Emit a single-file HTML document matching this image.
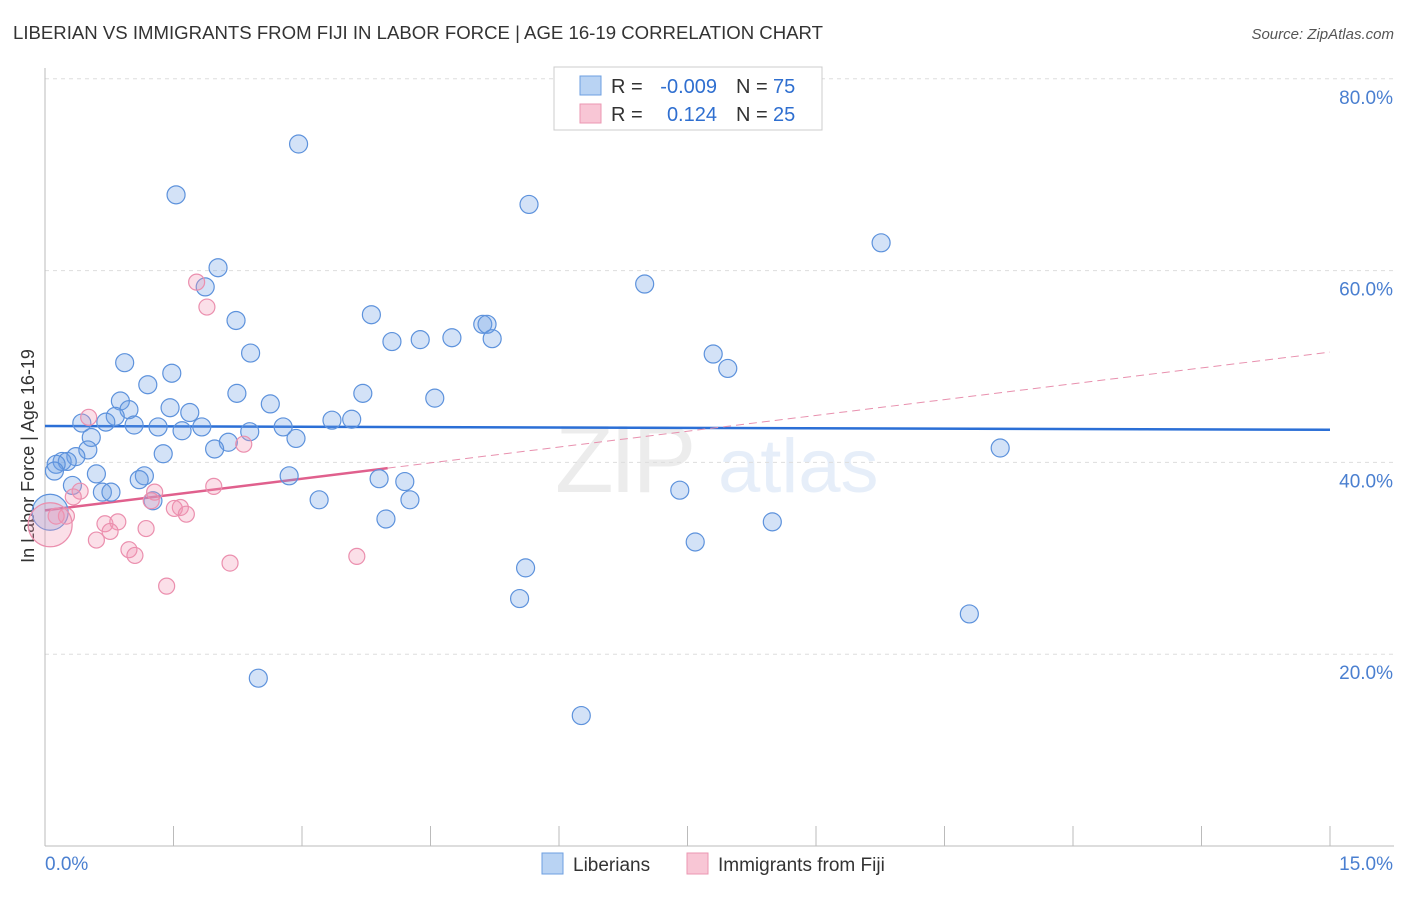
<!DOCTYPE html>
<html><head><meta charset="utf-8"><style>
body{margin:0;background:#fff;font-family:"Liberation Sans",sans-serif}
svg text{font-family:"Liberation Sans",sans-serif}
</style></head><body>
<svg id="chart" width="1406" height="892" xmlns="http://www.w3.org/2000/svg">
<text x="13" y="39" font-size="18.6" fill="#333">LIBERIAN VS IMMIGRANTS FROM FIJI IN LABOR FORCE | AGE 16-19 CORRELATION CHART</text>
<text x="1394" y="39" font-size="15" fill="#555" text-anchor="end" font-style="italic">Source: ZipAtlas.com</text>
<text transform="translate(34,456) rotate(-90)" font-size="18" fill="#333" text-anchor="middle">In Labor Force | Age 16-19</text>
<g opacity="0.18">
<text x="555" y="492" font-size="96" fill="#999" font-family="Liberation Serif" letter-spacing="-4">ZIP</text>
<text x="718" y="492" font-size="76" fill="#7aa7e0">atlas</text>
</g>
<g id="grid"></g><g id="axes"></g><g id="lines"></g><g id="points"></g>
<g>
<rect x="554" y="67" width="268" height="63" fill="#fff" stroke="#ccc"/>
<rect x="580" y="76" width="21" height="19" fill="#b9d3f3" stroke="#6d9fe0"/>
<rect x="580" y="104" width="21" height="19" fill="#f8c6d5" stroke="#eb97b2"/>
<text x="611" y="93" font-size="20" fill="#333">R =</text>
<text x="717" y="93" font-size="20" fill="#2f6fd0" text-anchor="end">-0.009</text>
<text x="736" y="93" font-size="20" fill="#333">N =</text>
<text x="773" y="93" font-size="20" fill="#2f6fd0">75</text>
<text x="611" y="121" font-size="20" fill="#333">R =</text>
<text x="717" y="121" font-size="20" fill="#2f6fd0" text-anchor="end">0.124</text>
<text x="736" y="121" font-size="20" fill="#333">N =</text>
<text x="773" y="121" font-size="20" fill="#2f6fd0">25</text>
</g>
<g>
<rect x="542" y="853" width="21" height="21" fill="#b9d3f3" stroke="#6d9fe0"/>
<text x="573" y="871" font-size="19" fill="#333">Liberians</text>
<rect x="687" y="853" width="21" height="21" fill="#f8c6d5" stroke="#eb97b2"/>
<text x="718" y="871" font-size="19" fill="#333">Immigrants from Fiji</text>
</g>
</svg>
<script>
const yTicks=[20,40,60,80];
const yTickLabels=["20.0%","40.0%","60.0%","80.0%"];
const xTickCount=10;
const blueX=[2.96,1.53,5.65,9.76,2.02,1.87,7.00,2.23,3.81,5.11,5.16,4.75,5.22,4.05,4.38,2.40,0.93,7.80,7.97,1.48,1.20,2.24,3.71,4.55,0.88,2.63,0.98,0.82,1.46,1.69,0.43,0.71,1.04,1.32,1.60,1.83,2.78,3.35,3.58,2.39,0.54,2.93,2.14,1.98,1.38,0.50,0.36,0.20,0.26,0.13,0.11,0.60,1.16,2.85,11.15,3.90,4.20,1.10,0.32,0.67,0.77,7.41,3.20,4.26,1.26,3.98,8.49,7.59,5.61,5.54,10.79,2.49,6.26,0.06];
const blueY=[73.2,67.9,66.9,62.9,60.3,58.3,58.6,54.8,55.4,54.4,54.4,53.0,52.9,52.6,52.8,51.4,50.4,51.3,49.8,49.3,48.1,47.2,47.2,46.7,46.4,46.1,45.5,44.8,45.7,45.2,44.1,44.2,43.9,43.7,43.3,43.7,43.7,44.4,44.5,43.2,42.6,42.5,42.1,41.4,40.9,41.3,40.6,40.1,40.1,39.8,39.1,38.8,38.6,38.6,41.5,38.3,38.0,38.2,37.6,36.9,36.9,37.1,36.1,36.1,36.0,34.1,33.8,31.7,29.0,25.8,24.2,17.5,13.6,34.8];
const pinkX=[1.77,1.89,0.51,2.32,1.97,0.41,1.28,0.33,1.24,1.58,1.51,1.65,0.25,0.13,0.70,0.85,0.76,0.60,1.18,0.98,1.05,2.16,3.64,1.42,0.06];
const pinkY=[58.8,56.2,44.7,41.9,37.5,37.0,36.9,36.4,36.0,35.3,35.2,34.6,34.4,34.4,33.6,33.8,32.8,31.9,33.1,30.9,30.3,29.5,30.2,27.1,33.5];
const blueTrend=[43.8,43.4];
const pinkTrend=[35.0,51.5];
const pinkSolidEnd=4.0;
const X0=45,X1=1330,Y0=846,PY=9.59;
const sx=v=>X0+(v/15)*(X1-X0);
const sy=v=>Y0-v*PY;
const NS="http://www.w3.org/2000/svg";
function mk(t,a,p){const e=document.createElementNS(NS,t);for(const k in a)e.setAttribute(k,a[k]);p.appendChild(e);return e;}
const grid=document.getElementById('grid'),axes=document.getElementById('axes'),lines=document.getElementById('lines'),pts=document.getElementById('points');
yTicks.forEach((t,i)=>{
 const l=mk('line',{x1:X0,x2:1394,y1:sy(t),y2:sy(t),stroke:'#ddd','stroke-dasharray':'4,4'},grid);
 
 
 const tx=mk('text',{x:1393,y:sy(t)+25,'font-size':19,fill:'#4a7fd0','text-anchor':'end'},axes);
 tx.textContent=yTickLabels[i];
 
 
});
const ya=mk('line',{x1:X0,x2:X0,y1:68,y2:Y0,stroke:'#bbb'},axes);


const xa=mk('line',{x1:X0,x2:1394,y1:Y0,y2:Y0,stroke:'#bbb'},axes);


for(let i=1;i<=xTickCount;i++){const v=i*15/xTickCount;
 const t=mk('line',{x1:sx(v),x2:sx(v),y1:Y0,y2:826,stroke:'#bbb'},axes);
 
 }
const xl0=mk('text',{x:45,y:870,'font-size':19,fill:'#4a7fd0'},axes);xl0.textContent='0.0%';


const xl1=mk('text',{x:1393,y:870,'font-size':19,fill:'#4a7fd0','text-anchor':'end'},axes);xl1.textContent='15.0%';


blueX.forEach((x,i)=>{const big=i===blueX.length-1;
 const c=mk('circle',{cx:sx(x),cy:sy(blueY[i]),r:big?18:9,fill:'rgba(110,160,228,0.3)',stroke:'#5d92dc','stroke-width':1.2},pts);
 
 });
pinkX.forEach((x,i)=>{const big=i===pinkX.length-1;
 const c=mk('circle',{cx:sx(x),cy:sy(pinkY[i]),r:big?22:8,fill:'rgba(242,150,180,0.3)',stroke:'#eb8fae','stroke-width':1.2},pts);
 
 });
const pAt=v=>pinkTrend[0]+(pinkTrend[1]-pinkTrend[0])*v/15;
const bl=mk('line',{x1:sx(0),x2:sx(15),y1:sy(blueTrend[0]),y2:sy(blueTrend[1]),stroke:'#2b6fd6','stroke-width':2.5},lines);


const pl=mk('line',{x1:sx(0),x2:sx(pinkSolidEnd),y1:sy(pAt(0)),y2:sy(pAt(pinkSolidEnd)),stroke:'#e0608d','stroke-width':2.5},lines);


const pd=mk('line',{x1:sx(pinkSolidEnd),x2:sx(15),y1:sy(pAt(pinkSolidEnd)),y2:sy(pAt(15)),stroke:'#e890ae','stroke-width':1,'stroke-dasharray':'8,5'},lines);


</script>
</body></html>
